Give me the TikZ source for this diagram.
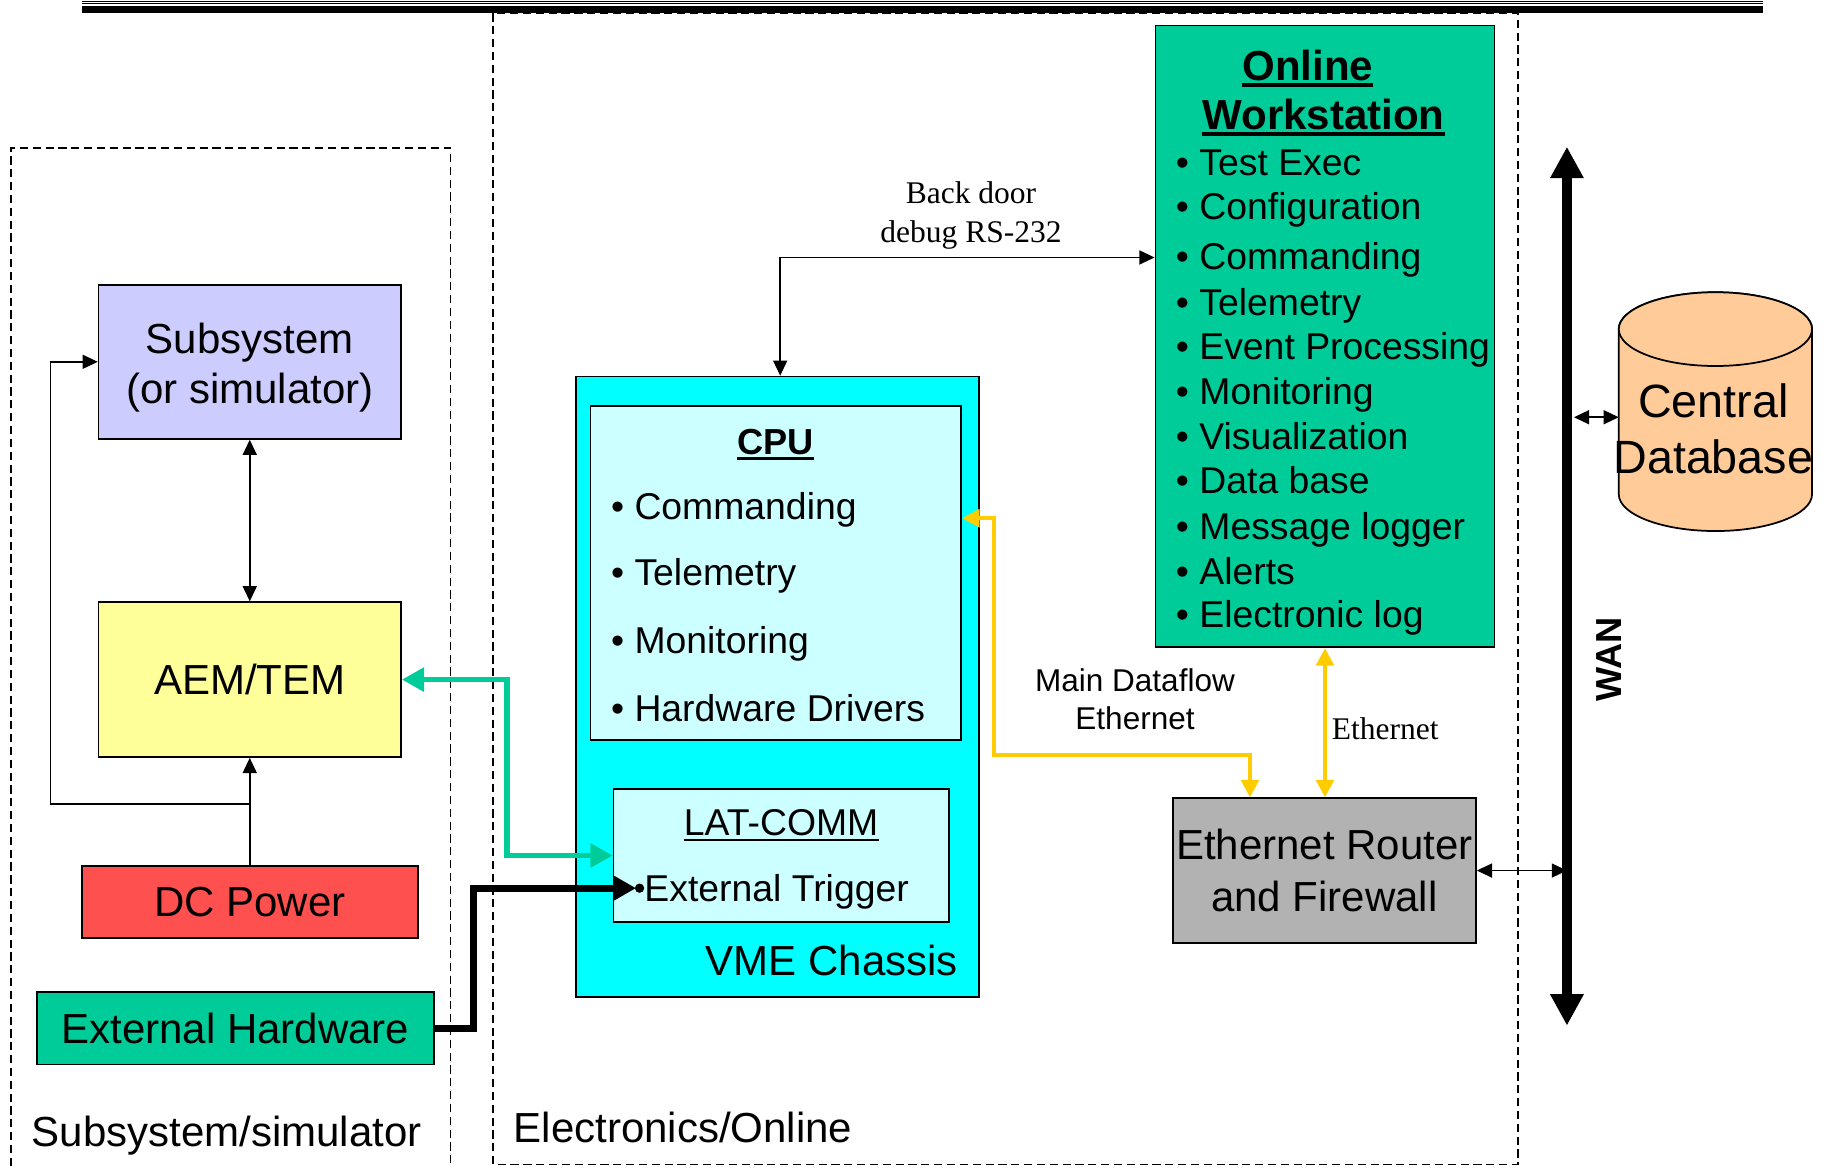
\documentclass[tikz,border=0pt]{standalone}
\usepackage{fontspec}
\setmainfont{Liberation Sans}
\newfontfamily\serifface{Liberation Serif}
\usetikzlibrary{arrows.meta}
\usepackage{xcolor}
\definecolor{subsystem-fill}{HTML}{CCCCFF}
\definecolor{aem-fill}{HTML}{FFFF99}
\definecolor{power-fill}{HTML}{FF5050}
\definecolor{hardware-fill}{HTML}{00CC99}
\definecolor{vme-fill}{HTML}{00FFFF}
\definecolor{cpu-fill}{HTML}{CCFFFF}
\definecolor{online-fill}{HTML}{00CC99}
\definecolor{router-fill}{HTML}{B2B2B2}
\definecolor{database-fill}{HTML}{FFCC99}
\definecolor{ethernet-link}{HTML}{FFCC00}
\definecolor{aem-link}{HTML}{00CC99}
\newcommand\sizeL{\fontsize{36}{43}\selectfont}
\newcommand\sizeR{\fontsize{36}{44}\selectfont}
\newcommand\sizeM{\fontsize{32}{38}\selectfont}
\newcommand\sizeT{\fontsize{31}{37}\selectfont}
\newcommand\sizeS{\fontsize{27}{33}\selectfont}
\newcommand\sizeDB{\fontsize{40}{48}\selectfont}
\tikzset{
	box/.style={draw, line width=1.5pt, inner sep=0pt},
	txt/.style={inner sep=0pt},
	region/.style={line width=1.2pt, dash pattern=on 7pt off 4pt},
	wire/.style={line width=1.4pt, >={Triangle[length=13pt,width=12pt]}},
	eth link/.style={draw=ethernet-link, line width=3.6pt, >={Triangle[length=15pt,width=15pt]}},
	aem link/.style={draw=aem-link, line width=4.5pt, >={Triangle[length=19pt,width=20pt]}},
	trig link/.style={line width=6pt, >={Triangle[length=19pt,width=20pt]}},
	wan bus/.style={line width=9pt, >={Triangle[length=27pt,width=27pt]}}
}

\begin{document}
\begin{tikzpicture}[x=1pt, y=-1pt]
	\useasboundingbox (0,0) rectangle (1568,999);
	% rules along the top
	\draw[line width=0.9pt] (70.5,1.6) -- (1510.5,1.6);
	\draw[line width=0.9pt] (70.5,3.4) -- (1510.5,3.4);
	\draw[line width=6pt] (70.5,8.4) -- (1510.5,8.4);
	% the two regions
	\draw[region] (9.3,999) -- (9.3,126.7) -- (385.8,126.7) -- (385.8,999);
	\draw[region] (422.5,11.5) rectangle (1300.7,997.6);
	\node[txt, font=\sizeL, anchor=base west] (subsim) at (27,982.5) {Subsystem/simulator};
	\node[txt, font=\sizeL, anchor=base west] (elonline) at (440,979) {Electronics/Online};

	% subsystem side
	\node[box, fill=subsystem-fill, minimum width=259pt, minimum height=132pt] (sub) at (214,310) {};
	\node[txt, font=\sizeL, align=center] (subtext) at (214,314.8) {Subsystem\\(or simulator)};
	\node[box, fill=aem-fill, minimum width=259.4pt, minimum height=132.6pt, font=\sizeL] (aem) at (214,582.3) {AEM/TEM};
	\node[box, fill=power-fill, minimum width=288pt, minimum height=62pt, font=\sizeL] (dcp) at (214,772.8) {DC Power};
	\node[box, fill=hardware-fill, minimum width=340pt, minimum height=62pt, font=\sizeL] (exthw) at (201.6,881) {External Hardware};

	% VME crate
	\node[box, fill=vme-fill, minimum width=345.5pt, minimum height=531.3pt] (vme) at (666.2,588.3) {};
	\node[box, fill=cpu-fill, minimum width=317.5pt, minimum height=286pt] (cpu) at (664.8,491) {};
	\node[txt, font=\bfseries\sizeT, anchor=base] (cputitle) at (664.5,389) {CPU};
	\draw[line width=3pt] ([yshift=-4pt]cputitle.base west) -- ([yshift=-4pt]cputitle.base east);
	\foreach \y/\entry [count=\i] in {445/Commanding, 502/Telemetry, 560/Monitoring, 618/Hardware Drivers}
		\node[txt, font=\sizeM, anchor=base west] (cpuitem\i) at (523.4,\y) {\textbullet\ \entry};
	\node[box, fill=cpu-fill, minimum width=287.3pt, minimum height=114pt] (latcomm) at (669.3,733) {};
	\node[txt, font=\sizeM, anchor=base] (lattitle) at (669.3,715.5) {LAT-COMM};
	\draw[line width=1.8pt] ([yshift=-4pt]lattitle.base west) -- ([yshift=-4pt]lattitle.base east);
	\node[txt, font=\sizeM, anchor=base west] (trigtext) at (552,772.6) {External Trigger};
	\node[txt, font=\sizeL, anchor=base east] (vmetext) at (821,836) {VME Chassis};

	% online workstation
	\node[box, fill=online-fill, minimum width=290.6pt, minimum height=532.8pt] (ows) at (1135.3,288.2) {};
	\node[txt, font=\bfseries\sizeL, anchor=base] (owsA) at (1120.5,69) {Online};
	\node[txt, font=\bfseries\sizeL, anchor=base] (owsB) at (1134,111) {Workstation};
	\draw[line width=3pt] ([yshift=-4pt]owsA.base west) -- ([yshift=-4pt]owsA.base east);
	\draw[line width=3pt] ([yshift=-4pt]owsB.base west) -- ([yshift=-4pt]owsB.base east);
	\foreach \y/\entry [count=\i] in {150/Test Exec, 188/Configuration, 231/Commanding, 270/Telemetry,
		308/Event Processing, 347/Monitoring, 385/Visualization, 423/Data base, 462/Message logger,
		501/Alerts, 538/Electronic log}
		\node[txt, font=\sizeM, anchor=base west] (owsitem\i) at (1007.4,\y) {\textbullet\ \entry};

	% router, WAN and database
	\node[box, fill=router-fill, minimum width=259.7pt, minimum height=123.8pt, font=\sizeR, align=center] (router) at (1134.8,745.9) {Ethernet Router\\and Firewall};
	\draw[line width=1.5pt, fill=database-fill] (1387,282) -- (1387,423.4)
		arc[start angle=180, end angle=0, x radius=82.8, y radius=31.6] -- (1552.6,282)
		arc[start angle=0, end angle=-180, x radius=82.8, y radius=31.6] -- cycle;
	\draw[line width=1.5pt, fill=database-fill] (1469.8,282) ellipse[x radius=82.8, y radius=31.6];
	\node[txt, font=\sizeDB, align=center] (db) at (1468,367) {Central\\Database};
	\coordinate (dbport) at (1387,357.5);
	\coordinate (wanport) at (1348.6,357.5);
	\coordinate (wantop) at (1342.6,125.7);
	\coordinate (wanbot) at (1342.6,878.8);
	\draw[wan bus, <->] (wantop) -- (wanbot);
	\node[txt, font=\bfseries\sizeT, rotate=90, anchor=base] (wan) at (1389.5,565.3) {WAN};

	% connections
	\draw[wire, <->] (sub) -- (aem);
	\draw[wire, ->] (dcp) -- (aem);
	\coordinate (tap) at (214,689);
	\draw[wire, ->] (tap) -| (43.4,310) -- (sub.west);
	\draw[aem link, <->] (aem.east) -| (434.5,733) -- (latcomm.west);
	\coordinate (trigport) at (545,761);
	\draw[trig link, ->] (exthw.east) -| (405.5,761) -- (trigport);
	\fill ([xshift=3pt]trigport) circle[radius=4];
	\draw[wire, <->] ([xshift=2.3pt]vme.north) |- ([yshift=67.6pt]ows.west);
	\node[txt, font=\serifface\sizeS, align=center] (backdoor) at (832,184.7) {Back door\\debug RS-232};
	\draw[eth link, <->] ([yshift=47pt]cpu.east) -| (851.7,647) -| ([xshift=-63.8pt]router.north);
	\node[txt, font=\sizeS, align=center] (mainflow) at (972.5,599.2) {Main Dataflow\\Ethernet};
	\draw[eth link, <->] (ows.south) -- (ows.south |- router.north);
	\node[txt, font=\serifface\sizeS, anchor=base west] (ethlabel) at (1141,634) {Ethernet};
	\draw[wire, <->] (router.east) -- (router.east -| wantop);
	\draw[wire, <->] (wanport) -- (dbport);
\end{tikzpicture}
\end{document}
